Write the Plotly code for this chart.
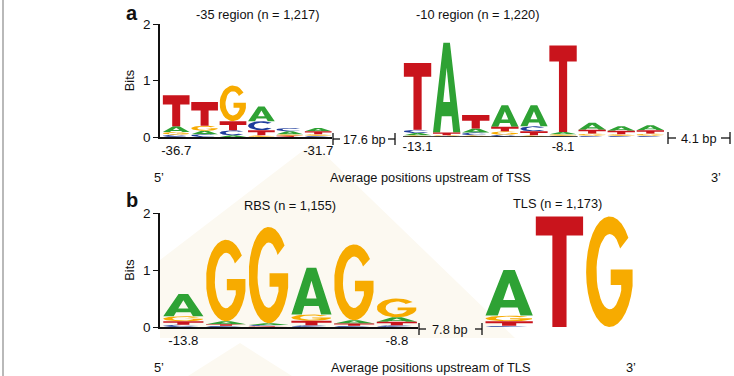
import math
import plotly.graph_objects as go

# ---------------- data (information content in bits) ----------------
m35_ticks = ["-36.7", "-31.7"]
m35_A = [0.10, 0.06, 0.03, 0.26, 0.05, 0.06]
m35_C = [0.04, 0.05, 0.09, 0.16, 0.06, 0.02]
m35_G = [0.05, 0.09, 0.63, 0.03, 0.03, 0.03]
m35_T = [0.55, 0.42, 0.16, 0.09, 0.02, 0.05]

m10_ticks = ["-13.1", "-8.1"]
m10_A = [0.04, 1.59, 0.07, 0.38, 0.37, 0.04, 0.12, 0.08, 0.09]
m10_C = [0.06, 0.01, 0.05, 0.04, 0.09, 0.02, 0.02, 0.02, 0.02]
m10_G = [0.03, 0.02, 0.03, 0.06, 0.03, 0.03, 0.04, 0.03, 0.04]
m10_T = [1.18, 0.05, 0.24, 0.08, 0.07, 1.53, 0.07, 0.06, 0.06]

rbs_ticks = ["-13.8", "-8.8"]
rbs_A = [0.39, 0.05, 0.03, 0.82, 0.06, 0.08]
rbs_C = [0.04, 0.02, 0.02, 0.03, 0.02, 0.03]
rbs_G = [0.09, 1.43, 1.69, 0.11, 1.33, 0.33]
rbs_T = [0.06, 0.03, 0.015, 0.08, 0.04, 0.06]

tls_A = [0.80, 0.0, 0.0]
tls_C = [0.02, 0.0, 0.0]
tls_G = [0.10, 0.0, 1.94]
tls_T = [0.08, 1.94, 0.0]

tick_pos = [1, 6]
y_ticks = [0, 1, 2]

# ---------------- style ----------------
W, H = 734, 376
FONT = "Liberation Sans, Arial, Helvetica, sans-serif"
FS = 12.8
COLORS = {"A": "#2ea234", "C": "#1e3c9c", "G": "#f7ab00", "T": "#c9141c"}
LETTER_W = 0.94


def px(x):
    return x / W


def py(y):
    return 1 - y / H


def ellipse_arc(cx, cy, rx, ry, a0, a1, n=28):
    pts = []
    for i in range(n + 1):
        a = math.radians(a0 + (a1 - a0) * i / n)
        pts.append((cx + rx * math.cos(a), cy + ry * math.sin(a)))
    return pts


def glyph(letter, h):
    if letter == "T":
        bar = min(0.42, (0.12 * h + 0.1) / h)
        t = 1 - bar
        return [(0, 1), (1, 1), (1, t), (0.65, t), (0.65, 0), (0.35, 0), (0.35, t), (0, t)]
    if letter == "A":
        return [(0.5, 1), (0.62, 1), (1, 0), (0.74, 0), (0.68, 0.18), (0.32, 0.18),
                (0.26, 0), (0, 0), (0.38, 1), (0.5, 1), (0.5, 0.72), (0.373, 0.34),
                (0.627, 0.34), (0.5, 0.72)]
    if letter == "C":
        outer = ellipse_arc(0.5, 0.5, 0.5, 0.5, 40, 320)
        inner = ellipse_arc(0.5, 0.5, 0.28, 0.34, 320, 40)
        return outer + inner
    if letter == "G":
        outer = ellipse_arc(0.5, 0.5, 0.5, 0.5, 38, 345)
        inner = ellipse_arc(0.5, 0.5, 0.28, 0.34, 330, 38)
        return outer + [(0.983, 0.52), (0.52, 0.52), (0.52, 0.38), (0.742, 0.38)] + inner
    return []


def logo_traces(mat, xa, ya):
    """mat: dict letter -> list of heights per position."""
    n = len(next(iter(mat.values())))
    paths = {k: ([], []) for k in mat}
    for i in range(n):
        col = sorted(((mat[k][i], k) for k in mat), key=lambda t: t[0])
        y0 = 0.0
        cx = i + 1
        for h, k in col:
            if h <= 0:
                continue
            xs, ys = paths[k]
            for u, v in glyph(k, h):
                xs.append(cx - LETTER_W / 2 + u * LETTER_W)
                ys.append(y0 + v * h)
            xs.append(None)
            ys.append(None)
            y0 += h
    traces = []
    for k, (xs, ys) in paths.items():
        traces.append(go.Scatter(x=xs, y=ys, xaxis=xa, yaxis=ya, mode="lines",
                                 fill="toself", fillcolor=COLORS[k],
                                 line=dict(width=0, color=COLORS[k]),
                                 hoverinfo="skip", showlegend=False))
    return traces


fig = go.Figure()
fig.add_traces(logo_traces({"A": m35_A, "C": m35_C, "G": m35_G, "T": m35_T}, "x", "y"))
fig.add_traces(logo_traces({"A": m10_A, "C": m10_C, "G": m10_G, "T": m10_T}, "x2", "y2"))
fig.add_traces(logo_traces({"A": rbs_A, "C": rbs_C, "G": rbs_G, "T": rbs_T}, "x3", "y3"))
fig.add_traces(logo_traces({"A": tls_A, "C": tls_C, "G": tls_G, "T": tls_T}, "x4", "y4"))


def xaxis_cfg(n, col_left, col_w, dom_left, line, tickvals=None, ticktext=None, anchor="y"):
    lo = 0.5 - (col_left - dom_left) / col_w
    right = col_left + n * col_w
    cfg = dict(domain=[px(dom_left), px(right)], range=[lo, n + 0.5], anchor=anchor,
               showgrid=False, zeroline=False, showline=line, linecolor="#111",
               linewidth=1.6, ticks="", fixedrange=True, automargin=False,
               tickfont=dict(family=FONT, size=13.2, color="#111"))
    if tickvals:
        cfg.update(tickmode="array", tickvals=tickvals, ticktext=ticktext)
    else:
        cfg.update(showticklabels=False)
    return cfg


def yaxis_cfg(y0px, y2px, anchor, visible):
    cfg = dict(domain=[py(y0px), py(y2px)], range=[0, 2], anchor=anchor,
               showgrid=False, zeroline=False, fixedrange=True, automargin=False)
    if visible:
        cfg.update(showline=True, linecolor="#111", linewidth=1.6, ticks="outside",
                   ticklen=5, tickwidth=1.4, tickcolor="#111", tickmode="array",
                   tickvals=y_ticks, ticktext=[str(v) for v in y_ticks],
                   tickfont=dict(family=FONT, size=13.5, color="#111"),
                   title=dict(text="Bits", font=dict(family=FONT, size=FS, color="#111"),
                              standoff=6))
    else:
        cfg.update(visible=False)
    return cfg


fig.update_layout(
    width=W, height=H, autosize=False, margin=dict(l=0, r=0, t=0, b=0, pad=0),
    paper_bgcolor="white", plot_bgcolor="rgba(0,0,0,0)",
    font=dict(family=FONT, size=FS, color="#111"),
    xaxis=xaxis_cfg(6, 162, 28.4, 160, True, tick_pos, m35_ticks, "y"),
    xaxis2=xaxis_cfg(9, 403, 29.1, 403, False, tick_pos, m10_ticks, "y2"),
    xaxis3=xaxis_cfg(6, 162, 42.7, 160, True, tick_pos, rbs_ticks, "y3"),
    xaxis4=xaxis_cfg(3, 484, 50.3, 484, False, None, None, "y4"),
    yaxis=yaxis_cfg(137, 24, "x", True),
    yaxis2=yaxis_cfg(137, 24, "x2", False),
    yaxis3=yaxis_cfg(327, 213, "x3", True),
    yaxis4=yaxis_cfg(327, 213, "x4", False),
)


def poly(points):
    return "M " + " L ".join(f"{px(a)} {py(b)}" for a, b in points) + " Z"


shapes = []
# faint background watermark
shapes.append(dict(type="path", xref="paper", yref="paper", layer="below",
                   path=poly([(313, 143), (515, 338), (160, 338), (160, 260)]),
                   fillcolor="#fcf9f1", line=dict(width=0)))
shapes.append(dict(type="path", xref="paper", yref="paper", layer="below",
                   path=poly([(240, 343), (292, 376), (188, 376)]),
                   fillcolor="#fcf9f1", line=dict(width=0)))
# left border
shapes.append(dict(type="line", xref="paper", yref="paper", x0=px(3), x1=px(3), y0=0, y1=1,
                   line=dict(color="#8a8a8a", width=1.2)))
# baseline under -10 region
shapes.append(dict(type="line", xref="x2", yref="y2", x0=0.5, x1=6.5, y0=0, y1=0,
                   line=dict(color="#111", width=1.6)))


def bracket(xl, xr, yc, tl, tr):
    out = []
    for xv in (xl, xr):
        out.append(dict(type="line", xref="paper", yref="paper", x0=px(xv), x1=px(xv),
                        y0=py(yc - 6), y1=py(yc + 6), line=dict(color="#111", width=1.3)))
    out.append(dict(type="line", xref="paper", yref="paper", x0=px(xl), x1=px(tl),
                    y0=py(yc), y1=py(yc), line=dict(color="#111", width=1.3)))
    out.append(dict(type="line", xref="paper", yref="paper", x0=px(tr), x1=px(xr),
                    y0=py(yc), y1=py(yc), line=dict(color="#111", width=1.3)))
    return out


shapes += bracket(333, 395, 139, 340, 388)
shapes += bracket(668, 730, 138, 676, 721)
shapes += bracket(419, 482, 329, 426, 475)
fig.update_layout(shapes=shapes)

ann = []


def text(x, y, s, size=FS, bold=False):
    ann.append(dict(x=px(x), y=py(y), xref="paper", yref="paper", text=f"<b>{s}</b>" if bold else s,
                    showarrow=False, xanchor="center", yanchor="middle",
                    font=dict(family=FONT, size=size, color="#111")))


text(132, 13, "a", 20, True)
text(132, 200, "b", 20, True)
text(257, 15, "-35 region (n = 1,217)")
text(477, 15, "-10 region (n = 1,220)")
text(290, 205, "RBS (n = 1,155)")
text(557, 204, "TLS (n = 1,173)")
text(364, 139, "17.6 bp")
text(699, 138, "4.1 bp")
text(450, 329, "7.8 bp")
text(159, 177, "5\u2019")
text(430, 177, "Average positions upstream of TSS")
text(716, 177, "3\u2019")
text(159, 367, "5\u2019")
text(430, 367, "Average positions upstream of TLS")
text(631, 367, "3\u2019")
fig.update_layout(annotations=ann)

fig.write_html("out.html",
               config={"responsive": False, "displayModeBar": False},
               post_script="document.body.style.margin='0';document.body.style.overflow='hidden';")
